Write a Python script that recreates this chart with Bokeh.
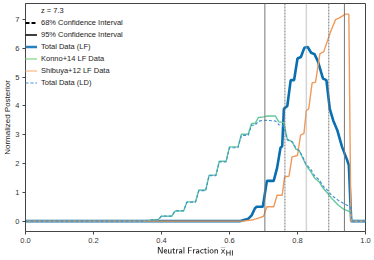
from bokeh.plotting import figure
from bokeh.models import Range1d, Span, Legend, LegendItem, ColumnDataSource, FixedTicker
from bokeh.embed import file_html
from bokeh.resources import INLINE

# ---- data ----
konno_x = [0.00, 0.35, 0.375, 0.39, 0.40, 0.43, 0.44, 0.465, 0.475, 0.50, 0.51, 0.53, 0.54, 0.56, 0.57,
           0.59, 0.60, 0.625, 0.635, 0.655, 0.665, 0.675, 0.685, 0.70, 0.71, 0.735, 0.745, 0.76, 0.77,
           0.785, 0.795, 0.805, 0.815, 0.825, 0.84, 0.85, 0.865, 0.875, 0.89, 0.90, 0.92, 0.935, 0.955,
           0.96, 1.00]
konno_y = [0.00, 0.00, 0.05, 0.05, 0.17, 0.17, 0.35, 0.35, 0.67, 0.67, 1.08, 1.08, 1.60, 1.60, 2.08,
           2.08, 2.58, 2.58, 3.02, 3.02, 3.39, 3.39, 3.60, 3.62, 3.65, 3.65, 3.45, 3.42, 2.85,
           2.75, 2.50, 2.45, 2.20, 1.95, 1.70, 1.50, 1.35, 1.15, 0.95, 0.80, 0.55, 0.42, 0.32,
           0.00, 0.00]

ld_x = [0.00, 0.35, 0.375, 0.39, 0.40, 0.43, 0.44, 0.465, 0.475, 0.50, 0.51, 0.53, 0.54, 0.56, 0.57,
        0.59, 0.60, 0.625, 0.635, 0.655, 0.665, 0.675, 0.685, 0.70, 0.71, 0.735, 0.745, 0.76, 0.77,
        0.785, 0.795, 0.805, 0.815, 0.825, 0.84, 0.85, 0.865, 0.875, 0.89, 0.90, 0.92, 0.935, 0.955,
        0.96, 1.00]
ld_y = [0.00, 0.00, 0.05, 0.05, 0.18, 0.18, 0.36, 0.36, 0.66, 0.66, 1.06, 1.06, 1.58, 1.58, 2.06,
        2.06, 2.55, 2.55, 2.98, 2.98, 3.33, 3.33, 3.47, 3.50, 3.50, 3.48, 3.35, 3.30, 2.82,
        2.75, 2.55, 2.45, 2.25, 1.98, 1.78, 1.58, 1.42, 1.22, 1.05, 0.90, 0.72, 0.62, 0.50,
        0.00, 0.00]

lf_x = [0.00, 0.63, 0.655, 0.665, 0.675, 0.68, 0.698, 0.71, 0.73, 0.74, 0.75, 0.755, 0.76, 0.77,
        0.78, 0.79, 0.80, 0.81, 0.82, 0.83, 0.84, 0.85, 0.86, 0.875, 0.885, 0.895, 0.905, 0.917,
        0.931, 0.946, 0.951, 0.958, 1.00]
lf_y = [0.00, 0.00, 0.08, 0.20, 0.45, 0.50, 0.50, 1.40, 1.40, 1.85, 2.55, 2.60, 3.90, 4.00,
        4.90, 4.90, 5.65, 5.70, 6.02, 6.05, 5.85, 5.80, 5.55, 4.95, 4.90, 3.90, 3.50, 3.16,
        2.58, 2.12, 1.94, 0.00, 0.00]

shib_x = [0.00, 0.64, 0.67, 0.69, 0.70, 0.71, 0.73, 0.74, 0.755, 0.762, 0.775, 0.784, 0.80, 0.809,
          0.819, 0.826, 0.833, 0.843, 0.853, 0.866, 0.877, 0.897, 0.912, 0.922, 0.941, 0.951,
          0.957, 1.00]
shib_y = [0.00, 0.00, 0.05, 0.12, 0.17, 0.50, 0.50, 0.90, 0.90, 1.54, 1.56, 2.23, 2.28, 2.99,
          3.05, 3.85, 3.90, 4.80, 4.83, 5.82, 5.88, 6.57, 7.00, 7.05, 7.19, 7.19,
          0.00, 0.00]

ci95 = [0.704, 0.938]
ci68 = [0.763, 0.892]
median = [0.826]

x_ticks = [0.0, 0.2, 0.4, 0.6, 0.8, 1.0]
y_ticks = [0, 1, 2, 3, 4, 5, 6, 7]

FONT = "Liberation Sans"
BLUE = "#0a6fb0"
GREEN = "#62c99c"
ORANGE = "#f09a5c"
LDBLUE = "#3d8fd6"

p = figure(width=374, height=260, output_backend="svg", toolbar_location=None,
           x_range=Range1d(0, 1), y_range=Range1d(-0.36, 7.56),
           min_border_left=25, min_border_right=9, min_border_top=3, min_border_bottom=29)
p.background_fill_color = "white"
p.border_fill_color = "white"
p.outline_line_color = "#444444"
p.outline_line_width = 1
p.xgrid.visible = False
p.ygrid.visible = False

for ax in (p.xaxis[0], p.yaxis[0]):
    ax.axis_line_color = "#444444"
    ax.major_tick_line_color = "#444444"
    ax.major_tick_out = 3
    ax.major_tick_in = 0
    ax.minor_tick_line_color = None
    ax.major_label_text_font = FONT
    ax.major_label_text_font_size = "7.5px"
    ax.major_label_text_color = "#333333"
    ax.axis_label_text_font = FONT
    ax.axis_label_text_font_size = "8px"
    ax.axis_label_text_font_style = "normal"
    ax.axis_label_text_color = "#222222"

p.xaxis.ticker = FixedTicker(ticks=x_ticks)
p.yaxis.ticker = FixedTicker(ticks=y_ticks)
p.xaxis.major_label_overrides = {t: f"{t:.1f}" for t in x_ticks}
p.xaxis.major_label_standoff = 3
p.yaxis.major_label_standoff = 3
p.xaxis.axis_label_standoff = 1
p.yaxis.axis_label_standoff = 0
p.xaxis.axis_label = r"$$\mathsf{Neutral\ Fraction}\ \overline{\mathsf{x}}_{\mathsf{HI}}$$"
p.yaxis.axis_label = "Normalized Posterior"

# confidence interval lines
for v in ci95:
    p.add_layout(Span(location=v, dimension="height", line_color="#777777", line_width=1))
for v in ci68:
    p.add_layout(Span(location=v, dimension="height", line_color="#777777", line_width=1,
                      line_dash="2 1"))
for v in median:
    p.add_layout(Span(location=v, dimension="height", line_color="#aaaaaa", line_width=1.5,
                      line_dash="1 1"))

r_lf = p.line(lf_x, lf_y, line_color=BLUE, line_width=2.6)
r_konno = p.line(konno_x, konno_y, line_color=GREEN, line_width=1.4)
r_shib = p.line(shib_x, shib_y, line_color=ORANGE, line_width=1.4)
r_ld = p.line(ld_x, ld_y, line_color=LDBLUE, line_width=1.1, line_dash="3 2")

# legend-only renderers (placed outside the visible range)
off = dict(x=[-5, -4], y=[-5, -5])
def lg(**kw):
    return p.line(x="x", y="y", source=ColumnDataSource(off), **kw)

g_title = lg(line_alpha=0)
g_68 = lg(line_color="black", line_width=1.8, line_dash="4 2")
g_95 = lg(line_color="black", line_width=1.5)
g_lf = lg(line_color="#2a7fc0", line_width=2.5)
g_k = lg(line_color="#86d98a", line_width=1.3)
g_s = lg(line_color="#fbbb8a", line_width=1.3)
g_ld = lg(line_color=LDBLUE, line_width=1.1, line_dash="3 2")

legend = Legend(items=[
    LegendItem(label="z = 7.3", renderers=[g_title]),
    LegendItem(label="68% Confidence Interval", renderers=[g_68]),
    LegendItem(label="95% Confidence Interval", renderers=[g_95]),
    LegendItem(label="Total Data (LF)", renderers=[g_lf]),
    LegendItem(label="Konno+14 LF Data", renderers=[g_k]),
    LegendItem(label="Shibuya+12 LF Data", renderers=[g_s]),
    LegendItem(label="Total Data (LD)", renderers=[g_ld]),
], location="top_left")
legend.title = " "
legend.title_text_font_size = "2px"
legend.title_standoff = 1
legend.border_line_color = None
legend.background_fill_alpha = 0
legend.margin = 0
legend.padding = 8
legend.spacing = 3
legend.glyph_width = 12
legend.glyph_height = 9
legend.label_height = 9
legend.label_standoff = 4
legend.label_text_font = FONT
legend.label_text_font_size = "7.5px"
legend.label_text_color = "#222222"
p.add_layout(legend)

html = file_html(p, INLINE)
html = html.replace("<head>", "<head><style>html,body{margin:0;padding:0;}</style>", 1)
open("out.html", "w").write(html)
